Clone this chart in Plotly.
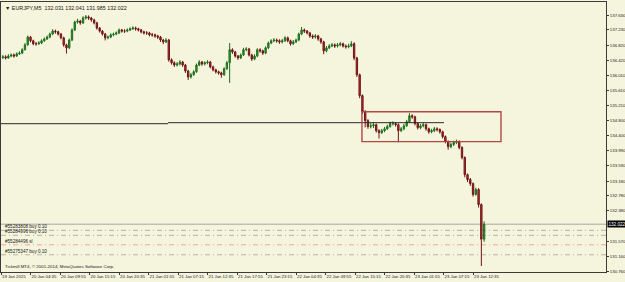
import pandas as pd
import plotly.graph_objects as go

# ---------------- data ----------------
symbol_title = "\u25bc EURJPY,M5  132.031 132.041 131.985 132.022"
copyright_text = "Tickmill MT4, \u00a9 2001-2014, MetaQuotes Software Corp."

bar_start = "2015-01-19 23:35"
bar_freq = "30min"
first_open = 136.49

close = [136.51, 136.48, 136.53, 136.56, 136.53, 136.59, 136.61, 136.70, 136.83, 137.04,
         136.94, 136.86, 136.86, 136.88, 136.94, 136.99, 137.04, 137.12, 137.20, 137.18,
         137.12, 137.02, 136.83, 136.75, 136.96, 137.23, 137.44, 137.47, 137.42, 137.55,
         137.58, 137.55, 137.50, 137.42, 137.28, 137.20, 137.12, 137.02, 137.04, 137.10,
         137.12, 137.15, 137.23, 137.20, 137.20, 137.23, 137.26, 137.28, 137.26, 137.23,
         137.18, 137.15, 137.15, 137.10, 137.10, 137.07, 137.04, 136.96, 136.91, 136.96,
         136.43, 136.35, 136.29, 136.32, 136.37, 136.29, 136.13, 135.97, 136.03, 136.11,
         136.29, 136.37, 136.32, 136.35, 136.37, 136.24, 136.16, 136.11, 136.08, 136.03,
         136.19, 136.35, 136.70, 136.64, 136.53, 136.48, 136.56, 136.70, 136.72, 136.56,
         136.45, 136.53, 136.70, 136.67, 136.61, 136.75, 136.88, 136.94, 136.96, 136.94,
         136.91, 136.94, 137.02, 136.94, 136.86, 136.91, 136.96, 137.12, 137.23, 137.20,
         137.15, 137.07, 137.04, 137.07, 136.99, 136.91, 136.67, 136.75, 136.80, 136.83,
         136.80, 136.83, 136.86, 136.80, 136.78, 136.80, 136.86, 136.48, 136.03, 135.47,
         135.04, 134.80, 134.64, 134.66, 134.69, 134.53, 134.48, 134.53, 134.58, 134.64,
         134.72, 134.72, 134.69, 134.53, 134.58, 134.66, 134.77, 134.93, 134.90, 134.72,
         134.61, 134.66, 134.69, 134.58, 134.50, 134.53, 134.58, 134.56, 134.50, 134.37,
         134.24, 134.10, 134.16, 134.21, 134.24, 134.08, 133.81, 133.35, 133.22, 133.11,
         132.82, 132.95, 132.55, 131.62, 132.022]

high = [136.56, 136.55, 136.58, 136.60, 136.60, 136.63, 136.66, 136.74, 136.88, 137.08,
        137.07, 136.97, 136.91, 136.93, 136.98, 137.03, 137.08, 137.16, 137.25, 137.24,
        137.21, 137.15, 137.05, 136.86, 137.00, 137.27, 137.48, 137.53, 137.50, 137.60,
        137.63, 137.62, 137.58, 137.53, 137.45, 137.31, 137.23, 137.15, 137.08, 137.14,
        137.16, 137.19, 137.27, 137.26, 137.25, 137.27, 137.30, 137.33, 137.32, 137.29,
        137.26, 137.21, 137.20, 137.18, 137.15, 137.13, 137.10, 137.07, 136.99, 137.01,
        136.99, 136.47, 136.39, 136.37, 136.42, 136.40, 136.32, 136.16, 136.08, 136.15,
        136.33, 136.42, 136.40, 136.39, 136.42, 136.40, 136.27, 136.19, 136.14, 136.11,
        136.23, 136.40, 136.88, 136.74, 136.67, 136.56, 136.60, 136.75, 136.77, 136.75,
        136.59, 136.58, 136.74, 136.74, 136.70, 136.79, 136.92, 136.98, 137.01, 137.00,
        136.98, 136.99, 137.06, 137.05, 136.97, 136.96, 137.00, 137.16, 137.31, 137.27,
        137.23, 137.18, 137.11, 137.12, 137.10, 137.02, 136.94, 136.80, 136.85, 136.88,
        136.87, 136.88, 136.91, 136.89, 136.84, 136.86, 136.93, 136.90, 136.51, 136.06,
        135.50, 135.08, 134.84, 134.74, 134.76, 134.72, 134.57, 134.58, 134.63, 134.69,
        134.77, 134.78, 134.75, 134.72, 134.63, 134.71, 134.82, 135.00, 134.97, 134.93,
        134.75, 134.71, 134.74, 134.72, 134.61, 134.58, 134.63, 134.62, 134.59, 134.53,
        134.40, 134.27, 134.21, 134.26, 134.29, 134.27, 134.11, 133.84, 133.38, 133.26,
        133.14, 133.00, 132.99, 132.58, 132.10]

low = [136.45, 136.44, 136.46, 136.50, 136.49, 136.51, 136.56, 136.58, 136.68, 136.81,
       136.90, 136.82, 136.81, 136.83, 136.85, 136.91, 136.96, 137.01, 137.09, 137.13,
       137.08, 136.98, 136.78, 136.60, 136.72, 136.93, 137.20, 137.40, 137.37, 137.39,
       137.51, 137.50, 137.45, 137.38, 137.24, 137.16, 137.08, 136.95, 136.98, 137.01,
       137.06, 137.09, 137.12, 137.16, 137.15, 137.17, 137.20, 137.23, 137.21, 137.19,
       137.14, 137.11, 137.10, 137.06, 137.05, 137.02, 136.99, 136.91, 136.85, 136.88,
       136.38, 136.30, 136.24, 136.25, 136.28, 136.24, 136.08, 135.89, 135.93, 136.00,
       136.08, 136.26, 136.27, 136.28, 136.31, 136.20, 136.12, 136.06, 136.03, 135.95,
       136.00, 136.16, 135.81, 136.59, 136.49, 136.43, 136.45, 136.53, 136.66, 136.52,
       136.40, 136.42, 136.50, 136.62, 136.56, 136.58, 136.72, 136.85, 136.90, 136.89,
       136.86, 136.87, 136.91, 136.90, 136.81, 136.83, 136.88, 136.93, 137.09, 137.15,
       137.11, 137.02, 136.99, 137.00, 136.94, 136.86, 136.58, 136.63, 136.72, 136.77,
       136.75, 136.76, 136.79, 136.76, 136.73, 136.74, 136.77, 136.42, 135.97, 135.40,
       134.98, 134.62, 134.58, 134.59, 134.60, 134.48, 134.32, 134.44, 134.49, 134.55,
       134.61, 134.67, 134.64, 134.22, 134.49, 134.54, 134.63, 134.74, 134.85, 134.67,
       134.56, 134.57, 134.62, 134.53, 134.45, 134.46, 134.49, 134.51, 134.45, 134.32,
       134.19, 134.02, 134.06, 134.12, 134.17, 134.03, 133.76, 133.28, 133.15, 133.05,
       132.76, 132.79, 132.47, 130.90, 131.55]

# price scale labels (131.970 sits under the current-price box in the reference)
price_ticks = [137.630, 137.230, 136.820, 136.420, 136.010, 135.610, 135.210, 134.800,
               134.400, 133.990, 133.590, 133.180, 132.780, 132.380, 131.570,
               131.160, 130.760]

# time scale labels
time_tick_start = "2015-01-19 23:15"
time_tick_step = "320min"
time_labels = ["19 Jan 2015", "20 Jan 04:35", "20 Jan 09:55", "20 Jan 15:15", "20 Jan 20:35",
               "21 Jan 01:55", "21 Jan 07:15", "21 Jan 12:35", "21 Jan 17:55", "21 Jan 23:15",
               "22 Jan 04:35", "22 Jan 09:55", "22 Jan 15:15", "22 Jan 20:35", "23 Jan 01:55",
               "23 Jan 07:15", "23 Jan 12:35"]
x_view = ["2015-01-19 23:15", "2015-01-24 12:37"]
y_view = [130.74, 137.98]

# trend lines (start, end, level)
trend_starts = ["2015-01-19 23:15", "2015-01-21 05:26"]
trend_ends = ["2015-01-21 05:26", "2015-01-23 07:20"]
trend_levels = [134.717, 134.744]

# rectangle object
rect_time = ["2015-01-22 16:30", "2015-01-23 17:38"]
rect_price = [134.235, 135.037]

# order lines
bid_price = 132.022
order_labels = ["#55283808 buy 0.10", "#55284996 buy 0.10", "#55284496 sl", "#55275347 buy 0.10"]
order_levels = [131.857, 131.723, 131.469, 131.202]
order_colors = ["#b4b4a8", "#b4b4a8", "#eaa8a8", "#b4b4a8"]

# ---------------- figure ----------------
bg = "#f5f4dc"
frame = "#3a3a3a"
font_family = "Liberation Sans, Arial, sans-serif"

dates = pd.date_range(bar_start, periods=len(close), freq=bar_freq)
opens = [first_open] + close[:-1]

fig = go.Figure()

# order lines and bid line (behind candles)
fig.add_shape(type="line", xref="paper", x0=0, x1=1, yref="y", y0=bid_price, y1=bid_price,
              line=dict(color="#a8a8a0", width=1), layer="below")
for lvl, col, lab in zip(order_levels, order_colors, order_labels):
    fig.add_shape(type="line", xref="paper", x0=0, x1=1, yref="y", y0=lvl, y1=lvl,
                  line=dict(color=col, width=1, dash="5px,3px,1px,3px"), layer="below")
    fig.add_annotation(xref="paper", x=0.004, yref="y", y=lvl, text=lab, showarrow=False,
                       xanchor="left", yanchor="bottom", yshift=-1,
                       font=dict(size=4.6, color="#202020", family=font_family))

fig.add_trace(go.Candlestick(
    x=dates, open=opens, high=high, low=low, close=close,
    increasing=dict(line=dict(color="#1e6e1e", width=1), fillcolor="#33a033"),
    decreasing=dict(line=dict(color="#6e1414", width=1), fillcolor="#c03030"),
    whiskerwidth=0, hoverinfo="skip", showlegend=False,
))

# trend lines
for xs, xe, lvl in zip(trend_starts, trend_ends, trend_levels):
    fig.add_trace(go.Scatter(x=[xs, xe], y=[lvl, lvl], mode="lines",
                             line=dict(color="#2a2a2a", width=1), hoverinfo="skip",
                             showlegend=False))

# rectangle
fig.add_shape(type="rect", xref="x", yref="y", x0=rect_time[0], x1=rect_time[1],
              y0=rect_price[0], y1=rect_price[1],
              line=dict(color="#b04848", width=1.4), fillcolor="rgba(0,0,0,0)")

# title and copyright
fig.add_annotation(xref="paper", yref="paper", x=0.004, y=0.995, text=symbol_title,
                   showarrow=False, xanchor="left", yanchor="top",
                   font=dict(size=5.4, color="#202020", family=font_family))
fig.add_annotation(xref="paper", yref="paper", x=0.004, y=0.0, text=copyright_text,
                   showarrow=False, xanchor="left", yanchor="bottom", yshift=1,
                   font=dict(size=4.4, color="#202020", family=font_family))

# current price label
fig.add_annotation(xref="paper", x=1.0, yref="y", y=bid_price, text=f"{bid_price:.3f}",
                   showarrow=False, xanchor="left", yanchor="middle", xshift=1,
                   bgcolor="#000000", borderpad=0.5,
                   font=dict(size=4.6, color="#ffffff", family=font_family))

time_ticks = pd.date_range(time_tick_start, periods=len(time_labels), freq=time_tick_step)

fig.update_layout(
    width=625, height=282,
    margin=dict(l=1, r=19, t=2, b=10),
    paper_bgcolor=bg, plot_bgcolor=bg,
    showlegend=False,
    font=dict(family=font_family, color="#202020"),
    xaxis=dict(
        range=x_view, rangeslider=dict(visible=False), showgrid=False, zeroline=False,
        showline=True, mirror=True, linecolor=frame, linewidth=1,
        tickmode="array", tickvals=time_ticks, ticktext=time_labels,
        ticks="outside", ticklen=2, tickcolor=frame, tickwidth=1,
        ticklabelposition="outside right", tickangle=0, automargin=False,
        tickfont=dict(size=4.3, color="#202020", family=font_family),
        fixedrange=True,
    ),
    yaxis=dict(
        range=y_view, side="right", showgrid=False, zeroline=False,
        showline=True, mirror=True, linecolor=frame, linewidth=1,
        tickmode="array", tickvals=price_ticks,
        ticktext=[f"{v:.3f}" for v in price_ticks],
        ticks="outside", ticklen=2, tickcolor=frame, tickwidth=1, automargin=False,
        tickfont=dict(size=4.3, color="#202020", family=font_family),
        fixedrange=True,
    ),
)

fig.write_html("out.html")
